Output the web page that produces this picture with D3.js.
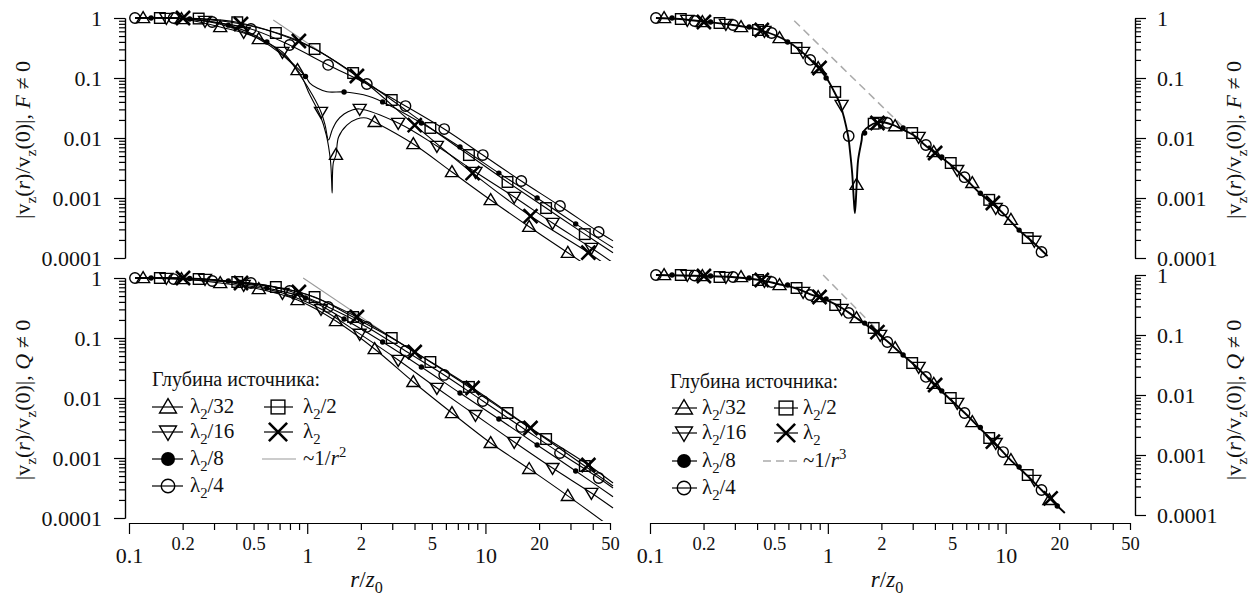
<!DOCTYPE html>
<html><head><meta charset="utf-8">
<script src="https://cdn.jsdelivr.net/npm/d3@7"></script>
<style>body{margin:0;background:#fff}</style>
</head><body>
<svg id="c" width="1254" height="600"></svg>
<script>
// ---- marker positions r/z0 for each source depth (shared by all panels) ----
const rTri = [0.120, 0.197, 0.325, 0.535, 0.882, 1.45, 2.39, 3.94, 6.49, 10.7, 17.6, 29.0];
const rInv = [0.162, 0.267, 0.440, 0.726, 1.195, 1.97, 3.24, 5.34, 8.79, 14.5, 23.8, 39.3];
const rDot = [0.133, 0.219, 0.361, 0.594, 0.978, 1.61, 2.65, 4.37, 7.20, 11.9, 19.5, 32.1];
const rCir = [0.108, 0.178, 0.293, 0.483, 0.796, 1.31, 2.16, 3.56, 5.87, 9.67, 15.9, 26.2, 43.2];
const rSq  = [0.149, 0.246, 0.405, 0.667, 1.10, 1.81, 2.98, 4.91, 8.08, 13.3, 21.9, 36.1];
const rX   = [0.201, 0.425, 0.898, 1.90, 4.01, 8.47, 17.9, 37.8];
const lineStart = [0.108, 1];

// ---- top-left: F != 0, values at markers ----
const tlTri = [1, 0.962, 0.708, 0.447, 0.136, 0.00525, 0.0185, 0.00794, 0.00271, 0.000926, 0.000332, 0.000122];
const tlInv = [1, 0.891, 0.585, 0.271, 0.0272, 0.0305, 0.0178, 0.00736, 0.00271, 0.00104, 0.000383, 0.000147];
const tlDot = [1, 0.96, 0.76, 0.398, 0.106, 0.0585, 0.040, 0.0178, 0.0071, 0.0026, 0.001, 0.00037];
const tlCir = [1, 1, 0.857, 0.656, 0.355, 0.165, 0.0794, 0.0341, 0.0141, 0.0052, 0.00192, 0.000736, 0.000271];
const tlSq  = [1, 0.98, 0.85, 0.562, 0.304, 0.121, 0.043, 0.0147, 0.0052, 0.00185, 0.00068, 0.00025];
const tlX   = [1, 0.794, 0.414, 0.108, 0.0164, 0.0026, 0.0005, 0.000123];
// extra curve points (no marker)
const tlTriExtra = [[1.034,0.0524],[1.18,0.0242],[1.28,0.0112],[1.35,0.00422],[1.37,0.002],[1.38,0.00121],[1.40,0.00383],[1.50,0.0104],[1.67,0.0164],[1.90,0.0207],[2.15,0.0215],[52,0.0000383]];
const tlInvExtra = [[0.91,0.112],[1.07,0.052],[1.26,0.0164],[1.317,0.00928],[1.38,0.0136],[1.47,0.0193],[1.61,0.0251],[1.79,0.0293],[52,0.0000832]];
const tlDotExtra = [[1.034,0.0825],[1.136,0.0681],[1.29,0.059],[2.07,0.0524],[52,0.000148]];
const tlCirExtra = [[52,0.000193]];
const tlSqExtra  = [[52,0.000122]];
const tlXExtra   = [[52,0.0000631]];
const tlRef = [[0.645,0.926],[2.9,0.0458]];

// ---- bottom-left: Q != 0 ----
const blTri = [1, 0.962, 0.825, 0.656, 0.43, 0.192, 0.0656, 0.0185, 0.00562, 0.00178, 0.000658, 0.000234];
const blInv = [1, 0.962, 0.764, 0.562, 0.304, 0.117, 0.043, 0.0147, 0.0052, 0.00185, 0.00068, 0.000261];
const blDot = [1, 0.98, 0.891, 0.681, 0.464, 0.207, 0.0858, 0.0329, 0.0121, 0.00447, 0.00165, 0.000607];
const blCir = [1, 0.96, 0.891, 0.825, 0.607, 0.329, 0.153, 0.0607, 0.0242, 0.0089, 0.00329, 0.00121, 0.000464];
const blSq  = [1, 0.962, 0.858, 0.708, 0.482, 0.224, 0.1, 0.0398, 0.0153, 0.00562, 0.00207, 0.000736];
const blX   = [1, 0.825, 0.584, 0.224, 0.0584, 0.0147, 0.00316, 0.000764];
const blTriExtra = [[52,0.0000661]];
const blInvExtra = [[52,0.000147]];
const blDotExtra = [[52,0.000226]];
const blCirExtra = [[52,0.000316]];
const blSqExtra  = [[52,0.000341]];
const blXExtra   = [[52,0.000383]];
const blRef = [[0.949,1.0],[2.8,0.115]];

// ---- top-right: F != 0 (all depths on one curve) ----
const trTri = [1, 0.858, 0.708, 0.464, 0.147, 0.00166, 0.0158, 0.00583, 0.00178, 0.000433];
const trInv = [0.926, 0.794, 0.607, 0.271, 0.0355, 0.0185, 0.0104, 0.00292, 0.00068, 0.000193];
const trDot = [1, 0.858, 0.708, 0.398, 0.1, 0.0121, 0.0147, 0.00483, 0.0012, 0.000292];
const trCir = [1, 0.891, 0.764, 0.562, 0.2, 0.0108, 0.0178, 0.00764, 0.00222, 0.000617, 0.000126];
const trSq  = [0.962, 0.825, 0.631, 0.316, 0.0586, 0.0173, 0.0121, 0.00383, 0.000931, 0.000215];
const trX   = [0.858, 0.631, 0.147, 0.0178, 0.00562, 0.000825];
const trCurveR = [0.108, 0.147, 0.199, 0.293, 0.415, 0.589, 0.792, 0.974, 1.08, 1.17, 1.30, 1.33, 1.37, 1.40, 1.42, 1.45, 1.48, 1.55, 1.57, 1.79, 2.01, 2.32, 2.60, 2.89, 3.20, 3.51, 4.85, 5.89, 7.14, 9.50, 11.7, 14.2, 17.2];
const trCurveV = [1, 0.962, 0.874, 0.764, 0.631, 0.414, 0.207, 0.104, 0.0607, 0.0369, 0.0108, 0.00631, 0.00261, 0.000926, 0.000562, 0.00153, 0.0043, 0.00926, 0.0121, 0.0171, 0.0185, 0.0165, 0.0141, 0.0121, 0.01, 0.00764, 0.00369, 0.00215, 0.00121, 0.000584, 0.000304, 0.000185, 0.000108];
const trRef = [[0.647,0.9],[2.77,0.0135]];

// ---- bottom-right: Q != 0 ----
const brTri = [1, 0.962, 0.926, 0.681, 0.43, 0.192, 0.0607, 0.0154, 0.00355, 0.000825, 0.000178];
const brInv = [1, 0.926, 0.794, 0.521, 0.271, 0.1, 0.0293, 0.00736, 0.00158, 0.000383];
const brDot = [1, 0.962, 0.891, 0.681, 0.398, 0.158, 0.0464, 0.0117, 0.00287, 0.000631, 0.000141];
const brCir = [1, 0.98, 0.926, 0.764, 0.464, 0.233, 0.0764, 0.02, 0.00501, 0.00112, 0.000261];
const brSq  = [1, 0.926, 0.825, 0.607, 0.316, 0.131, 0.0341, 0.00891, 0.00192, 0.000464];
const brX   = [0.962, 0.825, 0.43, 0.112, 0.0147, 0.00167, 0.000189];
const brCurveR = [0.108, 0.199, 0.289, 0.415, 0.524, 0.653, 0.792, 0.987, 1.20, 1.42, 1.77, 2.15, 2.60, 3.20, 3.89, 4.85, 5.89, 7.14, 8.68, 10.5, 13.1, 15.9, 19.3, 21.5];
const brCurveV = [1, 0.962, 0.926, 0.825, 0.708, 0.607, 0.482, 0.383, 0.282, 0.2, 0.126, 0.0794, 0.0482, 0.0282, 0.0158, 0.00858, 0.00501, 0.00282, 0.00158, 0.00086, 0.000464, 0.000261, 0.000147, 0.000108];
const brRef = [[0.941,1.0],[1.95,0.112]];

// ---- ticks & labels ----
const yTickVals = [1, 0.1, 0.01, 0.001, 0.0001];
const yTickLabels = ["1", "0.1", "0.01", "0.001", "0.0001"];
const xMajorVals = [0.1, 1, 10];
const xMajorLabels = ["0.1", "1", "10"];
const xMidVals = [0.2, 0.5, 2, 5, 20, 50];
const xMidLabels = ["0.2", "0.5", "2", "5", "20", "50"];
const xMinorVals = [0.3, 0.4, 0.6, 0.7, 0.8, 0.9, 3, 4, 6, 7, 8, 9, 30, 40];
const yMinorVals = [];
[0.0001, 0.001, 0.01, 0.1].forEach(d => [2,3,4,5,6,7,8,9].forEach(m => yMinorVals.push(+(m*d).toPrecision(3))));

const legendHeader = "Глубина источника:";
const legendDepths = [["tri","32"],["inv","16"],["dot","8"],["cir","4"],["sq","2"],["x",""]];

// ---------------------------------------------------------------
const FONT = '"Liberation Serif", "Times New Roman", serif';
const svg = d3.select("#c");

function richText(g, x, y, parts, fs, opts) {
  opts = opts || {};
  const t = g.append("text").attr("x", x).attr("y", y)
    .style("font-family", FONT).style("font-size", fs + "px").attr("fill", "#111");
  if (opts.anchor) t.attr("text-anchor", opts.anchor);
  if (opts.rotate) t.attr("transform", `rotate(-90,${x},${y})`);
  let cur = 0;
  parts.forEach(p => {
    const ts = t.append("tspan").text(p.t).style("font-family", FONT);
    let target = 0;
    if (p.sub) { target = 0.28 * fs; ts.style("font-size", (fs * 0.7) + "px"); }
    if (p.sup) { target = -0.4 * fs; ts.style("font-size", (fs * 0.7) + "px"); }
    if (target !== cur) { ts.attr("dy", target - cur); cur = target; }
    if (p.it) ts.style("font-style", "italic");
  });
  return t;
}

function marker(g, type, cx, cy, s, dotR) {
  const sw = 1.4;
  if (type === "cir") {
    g.append("circle").attr("cx", cx).attr("cy", cy).attr("r", 5.2*s)
      .attr("fill", "none").attr("stroke", "#000").attr("stroke-width", sw);
  } else if (type === "dot") {
    g.append("circle").attr("cx", cx).attr("cy", cy).attr("r", dotR || 2.7)
      .attr("fill", "#000");
  } else if (type === "sq") {
    const h = 5.3*s;
    g.append("rect").attr("x", cx-h).attr("y", cy-h).attr("width", 2*h).attr("height", 2*h)
      .attr("fill", "none").attr("stroke", "#000").attr("stroke-width", sw);
  } else if (type === "tri") {
    g.append("path").attr("d", `M${cx},${cy-6.4*s}L${cx+6.5*s},${cy+4.6*s}L${cx-6.5*s},${cy+4.6*s}Z`)
      .attr("fill", "none").attr("stroke", "#000").attr("stroke-width", sw);
  } else if (type === "inv") {
    g.append("path").attr("d", `M${cx},${cy+6.4*s}L${cx+6.5*s},${cy-4.6*s}L${cx-6.5*s},${cy-4.6*s}Z`)
      .attr("fill", "none").attr("stroke", "#000").attr("stroke-width", sw);
  } else if (type === "x") {
    const h = 7*s;
    g.append("path").attr("d", `M${cx-h},${cy-h}L${cx+h},${cy+h}M${cx-h},${cy+h}L${cx+h},${cy-h}`)
      .attr("fill", "none").attr("stroke", "#000").attr("stroke-width", 2.6);
  }
}

const rByType = {tri: rTri, inv: rInv, dot: rDot, cir: rCir, sq: rSq, x: rX};
const order = ["tri","inv","dot","cir","sq","x"];

const panels = [
  {id:"tl", xr:[129,610], yr:[258,18], axisX:125, side:"left", xAxisY:null, lab:"F", labY:140,
   vals:{tri:tlTri, inv:tlInv, dot:tlDot, cir:tlCir, sq:tlSq, x:tlX},
   extra:{tri:tlTriExtra, inv:tlInvExtra, dot:tlDotExtra, cir:tlCirExtra, sq:tlSqExtra, x:tlXExtra},
   ref:tlRef, dashed:false},
  {id:"bl", xr:[129,610], yr:[518,278], axisX:125, side:"left", xAxisY:523, lab:"Q", labY:400,
   vals:{tri:blTri, inv:blInv, dot:blDot, cir:blCir, sq:blSq, x:blX},
   extra:{tri:blTriExtra, inv:blInvExtra, dot:blDotExtra, cir:blCirExtra, sq:blSqExtra, x:blXExtra},
   ref:blRef, dashed:false},
  {id:"tr", xr:[650,1130], yr:[258,18], axisX:1135, side:"right", xAxisY:null, lab:"F", labY:140,
   vals:{tri:trTri, inv:trInv, dot:trDot, cir:trCir, sq:trSq, x:trX},
   curve: trCurveR.map((r,i)=>[r, trCurveV[i]]), ref:trRef, dashed:true},
  {id:"br", xr:[650,1130], yr:[515,275], axisX:1135, side:"right", xAxisY:523, lab:"Q", labY:400,
   vals:{tri:brTri, inv:brInv, dot:brDot, cir:brCir, sq:brSq, x:brX},
   curve: brCurveR.map((r,i)=>[r, brCurveV[i]]), ref:brRef, dashed:true}
];

const defs = svg.append("defs");

panels.forEach(p => {
  const x = d3.scaleLog().domain([0.1, 50]).range(p.xr);
  const y = d3.scaleLog().domain([0.0001, 1]).range(p.yr);
  const g = svg.append("g");

  defs.append("clipPath").attr("id", "clip-"+p.id).append("rect")
    .attr("x", p.xr[0]-10).attr("y", p.yr[1]-12).attr("width", p.xr[1]-p.xr[0]+16)
    .attr("height", p.yr[0]-p.yr[1]+15);

  const line = d3.line().x(d => x(d[0])).y(d => y(d[1])).curve(d3.curveCatmullRom.alpha(0.5));
  const cg = g.append("g").attr("clip-path", `url(#clip-${p.id})`);

  const rl = cg.append("path").attr("d", d3.line().x(d=>x(d[0])).y(d=>y(d[1]))(p.ref))
    .attr("fill", "none");
  if (p.dashed) rl.attr("stroke", "#aaa").attr("stroke-width", 1.5).attr("stroke-dasharray", "8,5");
  else rl.attr("stroke", "#999").attr("stroke-width", 1.1);

  if (p.curve) {
    cg.append("path").attr("d", line(p.curve)).attr("fill", "none")
      .attr("stroke", "#000").attr("stroke-width", 1.9);
  } else {
    order.forEach(k => {
      const pts = rByType[k].map((r,i) => [r, p.vals[k][i]]).concat(p.extra[k]);
      if (!pts.some(d => d[0] === lineStart[0])) pts.push(lineStart);
      pts.sort((a,b) => a[0]-b[0]);
      cg.append("path").attr("d", line(pts)).attr("fill", "none")
        .attr("stroke", "#000").attr("stroke-width", 1.1);
    });
  }

  const mg = g.append("g");
  order.forEach(k => {
    p.vals[k].forEach((v,i) => marker(mg, k, x(rByType[k][i]), y(v), 1));
  });

  const isLeft = p.side === "left";
  const mkAxis = isLeft ? d3.axisLeft : d3.axisRight;
  const ya = g.append("g").attr("transform", `translate(${p.axisX},0)`);
  ya.call(mkAxis(y).tickValues(yMinorVals).tickSize(6).tickSizeOuter(0).tickFormat(""));
  const yb = g.append("g").attr("transform", `translate(${p.axisX},0)`);
  yb.call(mkAxis(y).tickValues(yTickVals).tickSize(11).tickSizeOuter(0).tickPadding(isLeft ? 12 : 11)
      .tickFormat((d,i) => yTickLabels[i]));
  [ya, yb].forEach(a => { a.selectAll("path,line").attr("stroke", "#000").attr("stroke-width", 1.2); });
  yb.selectAll("text").style("font-family", FONT).style("font-size", "22px").attr("fill", "#111").attr("dy", "0.33em");

  const lx = isLeft ? 22 : 1233;
  richText(g, lx, p.labY, [
    {t:"|v"}, {t:"z", sub:true}, {t:"("}, {t:"r", it:true}, {t:")/v"}, {t:"z", sub:true},
    {t:"(0)|, "}, {t:p.lab, it:true}, {t:" ≠ 0"}
  ], 22, {anchor:"middle", rotate:true}).attr("dy", "0.35em");

  if (p.xAxisY) {
    const xa = g.append("g").attr("transform", `translate(0,${p.xAxisY})`);
    xa.call(d3.axisBottom(x).tickValues(xMinorVals).tickSize(7).tickSizeOuter(0).tickFormat(""));
    const xm = g.append("g").attr("transform", `translate(0,${p.xAxisY})`);
    xm.call(d3.axisBottom(x).tickValues(xMidVals).tickSize(7).tickSizeOuter(0).tickFormat((d,i)=>xMidLabels[i]));
    xm.select(".domain").remove();
    xm.selectAll("text").attr("y", 27).attr("dy", 0).style("font-size", "18.5px");
    const xM = g.append("g").attr("transform", `translate(0,${p.xAxisY})`);
    xM.call(d3.axisBottom(x).tickValues(xMajorVals).tickSize(11).tickSizeOuter(0).tickFormat((d,i)=>xMajorLabels[i]));
    xM.select(".domain").remove();
    xM.selectAll("text").attr("y", 40).attr("dy", 0).style("font-size", "22px");
    [xa, xm, xM].forEach(a => {
      a.selectAll("path,line").attr("stroke", "#000").attr("stroke-width", 1.2);
      a.selectAll("text").style("font-family", FONT).attr("fill", "#111");
    });
    const cx = (p.xr[0] + p.xr[1]) / 2 - 3;
    richText(g, cx, 587, [{t:"r", it:true}, {t:"/"}, {t:"z", it:true}, {t:"0", sub:true}], 23, {anchor:"middle"});
  }
});

function legend(o) {
  const g = svg.append("g");
  g.append("text").attr("x", o.hx).attr("y", o.hy)
    .style("font-family", FONT).style("font-size", "20px").attr("fill", "#111").text(legendHeader);
  const items = legendDepths.map((d,i) => {
    const col = i < 4 ? 0 : 1;
    const row = i < 4 ? i : i - 4;
    return {type:d[0], den:d[1], col, row};
  });
  items.forEach(it => {
    const c = o.cols[it.col];
    const ry = o.rows[it.row];
    g.append("line").attr("x1", c.l0).attr("x2", c.l1).attr("y1", ry).attr("y2", ry)
      .attr("stroke", "#000").attr("stroke-width", 1.2);
    marker(g, it.type, c.m, ry, 1.3, 7);
    const parts = [{t:"λ"}, {t:"2", sub:true}];
    if (it.den) parts.push({t:"/" + it.den});
    richText(g, c.t, ry + 6, parts, 21);
  });
  const c = o.cols[1];
  const ry = o.rows[2];
  const ln = g.append("line").attr("x1", o.refL0).attr("x2", o.refL1).attr("y1", ry).attr("y2", ry);
  if (o.dashed) ln.attr("stroke", "#aaa").attr("stroke-width", 1.5).attr("stroke-dasharray", "8,5");
  else ln.attr("stroke", "#999").attr("stroke-width", 1.1);
  richText(g, c.t, ry + 6, [{t:"~1/"}, {t:"r", it:true}, {t:o.pow, sup:true}], 21);
}
legend({hx:152, hy:386, rows:[407,432,459,486],
  cols:[{l0:152,l1:183,m:168,t:190},{l0:264,l1:293,m:278,t:303}], refL0:262, refL1:296, dashed:false, pow:"2"});
legend({hx:670, hy:388, rows:[408,433,461,488],
  cols:[{l0:672,l1:697,m:684,t:702},{l0:774,l1:798,m:786,t:803}], refL0:763, refL1:800, dashed:true, pow:"3"});
</script>
</body></html>
